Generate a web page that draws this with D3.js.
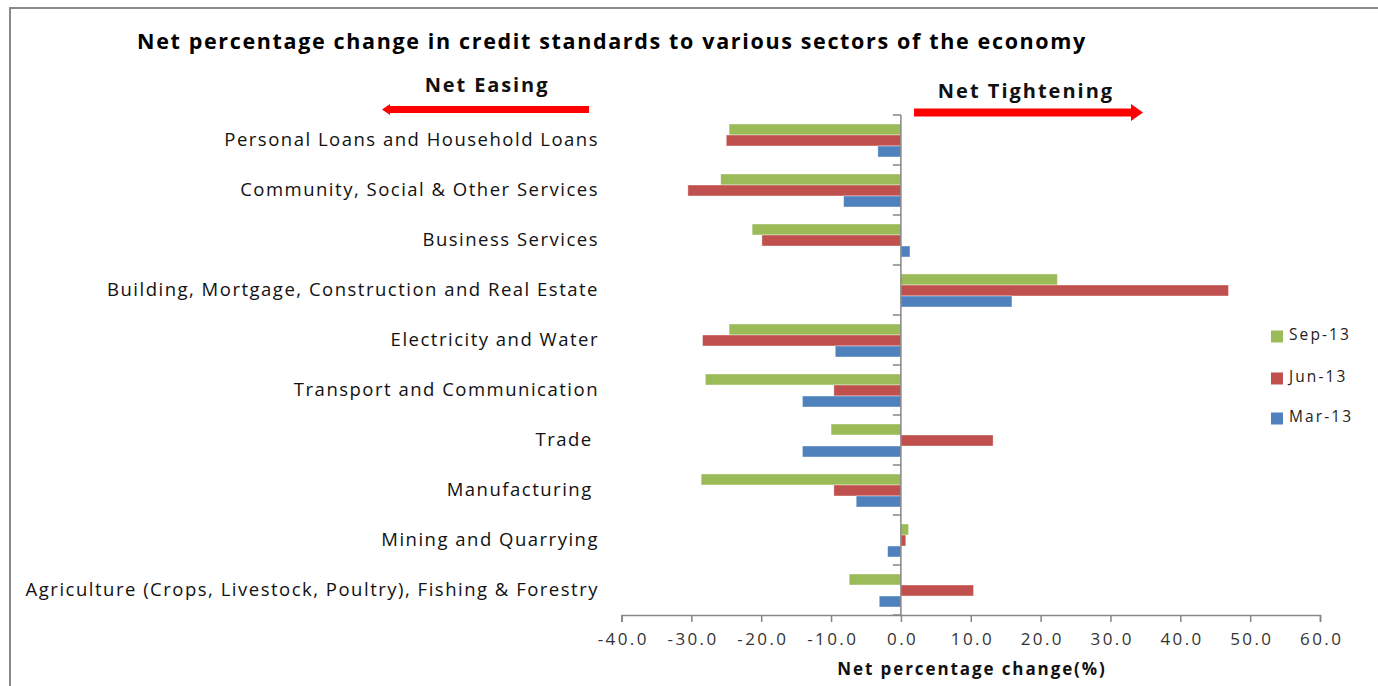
<!DOCTYPE html>
<html>
<head>
<meta charset="utf-8">
<script src="https://cdn.jsdelivr.net/npm/d3@7"></script>
<style>
  html, body { margin: 0; padding: 0; background: #fff; }
  svg { display: block; }
  text { font-family: "Open Sans", "Noto Sans", sans-serif; }
</style>
</head>
<body>
<svg id="chart" width="1378" height="686"></svg>
<script>
const categories = [
  "Personal Loans and Household Loans",
  "Community, Social & Other Services",
  "Business Services",
  "Building, Mortgage, Construction and Real Estate",
  "Electricity and Water",
  "Transport and Communication",
  "Trade ",
  "Manufacturing ",
  "Mining and Quarrying",
  "Agriculture (Crops, Livestock, Poultry), Fishing & Forestry"
];
const seriesNames = ["Sep-13", "Jun-13", "Mar-13"];
const sep13 = [-24.6, -25.8, -21.3, 22.4, -24.6, -28.0, -10.0, -28.6, 1.1, -7.4];
const jun13 = [-25.0, -30.5, -19.9, 46.9, -28.4, -9.6, 13.2, -9.6, 0.7, 10.4];
const mar13 = [-3.3, -8.2, 1.3, 15.9, -9.4, -14.1, -14.1, -6.4, -1.9, -3.1];
const xTicks = [-40, -30, -20, -10, 0, 10, 20, 30, 40, 50, 60];
const colors = ["#9BBB59", "#C0504D", "#4F81BD"];
const titleText = "Net percentage change in credit standards to various sectors of the economy";
const xAxisTitle = "Net percentage change(%)";

const seriesValues = [sep13, jun13, mar13];

const svg = d3.select("#chart");

// outer frame
svg.append("rect")
  .attr("x", 10).attr("y", 8)
  .attr("width", 1400).attr("height", 700)
  .attr("fill", "none").attr("stroke", "#8a8a8a").attr("stroke-width", 2);

const x = d3.scaleLinear().domain([-40, 60]).range([621.5, 1320]);
const y0 = d3.scaleBand().domain(categories).range([115, 615]).padding(0);
const y1 = d3.scaleBand().domain(seriesNames).range([9, 42]).padding(0);

// bars
const groups = svg.append("g").selectAll("g")
  .data(categories)
  .join("g")
  .attr("transform", d => `translate(0,${y0(d)})`);

groups.selectAll("rect")
  .data((d, i) => seriesNames.map((s, k) => ({ s, k, v: seriesValues[k][i] })))
  .join("rect")
  .attr("x", d => x(Math.min(0, d.v)))
  .attr("width", d => Math.abs(x(d.v) - x(0)))
  .attr("y", d => y1(d.s))
  .attr("height", y1.bandwidth())
  .attr("fill", d => colors[d.k])
  .attr("stroke", "#ffffff").attr("stroke-opacity", 0.5).attr("stroke-width", 0.8);

// x axis
const fmt = d3.format(".1f");
const xAxis = d3.axisBottom(x).tickValues(xTicks)
  .tickFormat(d => fmt(d).replace("\u2212", "-"))
  .tickSize(7).tickPadding(11);
const gx = svg.append("g").attr("transform", "translate(0,615)").call(xAxis);
gx.select(".domain").attr("stroke", "#868686").attr("stroke-width", 1.5);
gx.selectAll(".tick line").attr("stroke", "#868686").attr("stroke-width", 1.5);
gx.selectAll(".tick text").attr("fill", "#333").attr("font-size", 17)
  .attr("letter-spacing", 2.4)
  .attr("dx", 1.2)
  .attr("font-family", "'Open Sans', sans-serif");

// y axis at zero
svg.append("line")
  .attr("x1", x(0)).attr("x2", x(0))
  .attr("y1", y0.range()[0]).attr("y2", y0.range()[1])
  .attr("stroke", "#868686").attr("stroke-width", 1.5);
const bounds = categories.map(c => y0(c)).concat([y0.range()[1]]);
svg.append("g").selectAll("line")
  .data(bounds)
  .join("line")
  .attr("x1", x(0) - 8).attr("x2", x(0))
  .attr("y1", d => d).attr("y2", d => d)
  .attr("stroke", "#868686").attr("stroke-width", 1.5);

// category labels
svg.append("g").selectAll("text")
  .data(categories)
  .join("text")
  .attr("x", 599)
  .attr("y", d => y0(d) + y0.bandwidth() / 2 + 1)
  .attr("text-anchor", "end")
  .attr("dominant-baseline", "middle")
  .attr("font-size", 18.5)
  .attr("letter-spacing", 1.5)
  .attr("fill", "#111")
  .style("white-space", "pre")
  .text(d => d);

// title
svg.append("text")
  .attr("x", 612).attr("y", 43)
  .attr("text-anchor", "middle").attr("dominant-baseline", "middle")
  .attr("font-size", 21.5).attr("font-weight", "bold").attr("fill", "#000")
  .attr("letter-spacing", 1.65)
  .text(titleText);

// x axis title
svg.append("text")
  .attr("x", 972).attr("y", 670)
  .attr("text-anchor", "middle").attr("dominant-baseline", "middle")
  .attr("font-size", 17).attr("font-weight", "bold").attr("fill", "#111")
  .attr("letter-spacing", 1.9)
  .text(xAxisTitle);

// annotations
svg.append("text")
  .attr("x", 487).attr("y", 87)
  .attr("text-anchor", "middle").attr("dominant-baseline", "middle")
  .attr("font-size", 20).attr("font-weight", "bold").attr("fill", "#111")
  .attr("letter-spacing", 1.9)
  .text("Net Easing");
svg.append("text")
  .attr("x", 1026).attr("y", 93)
  .attr("text-anchor", "middle").attr("dominant-baseline", "middle")
  .attr("font-size", 20).attr("font-weight", "bold").attr("fill", "#111")
  .attr("letter-spacing", 2)
  .text("Net Tightening");

// arrows
svg.append("path")
  .attr("d", "M589,106 L390,106 L390,104 L382,109.5 L390,115 L390,113 L589,113 Z")
  .attr("fill", "#ff0000");
svg.append("path")
  .attr("d", "M914,108.5 L1131,108.5 L1131,104 L1143,112.5 L1131,121 L1131,116.5 L914,116.5 Z")
  .attr("fill", "#ff0000");

// legend
const legendY = [336, 378, 418];
const lg = svg.append("g").selectAll("g")
  .data(seriesNames)
  .join("g")
  .attr("transform", (d, i) => `translate(1271,${legendY[i]})`);
lg.append("rect").attr("x", 0).attr("y", -5.5).attr("width", 12).attr("height", 12)
  .attr("fill", (d, i) => colors[i]);
lg.append("text").attr("x", 18).attr("y", 0)
  .attr("dominant-baseline", "middle")
  .attr("font-size", 15.5).attr("fill", "#222")
  .attr("letter-spacing", 2.1)
  .text(d => d);
</script>
</body>
</html>
